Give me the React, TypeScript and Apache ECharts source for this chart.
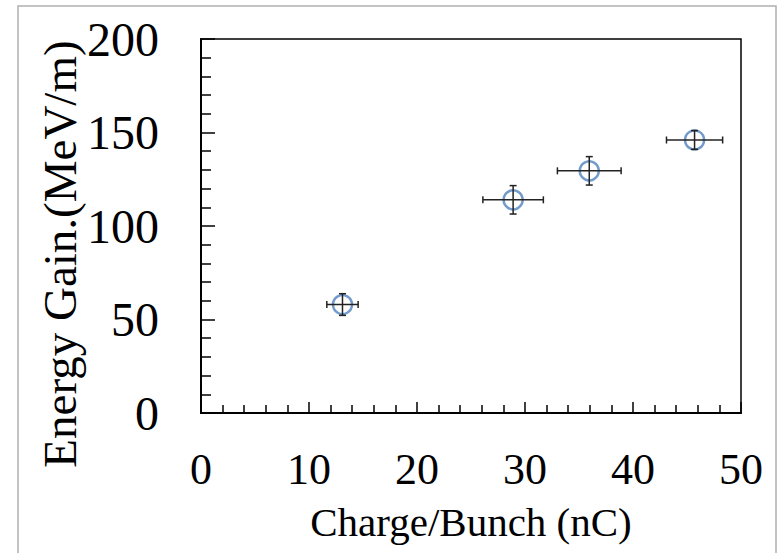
import React, { useEffect, useRef } from "react";
import * as echarts from "echarts";

const charge = [13.1, 28.9, 35.95, 45.7];
const energy = [58, 114, 129.5, 146];
const chargeErr = [1.45, 2.8, 2.95, 2.6];
const energyErr = [5.8, 7.6, 7.6, 5.0];
const xTicks = [0, 10, 20, 30, 40, 50];
const yTicks = [0, 50, 100, 150, 200];

const FONT = "'Liberation Serif', 'Times New Roman', serif";

export default function App() {
  const ref = useRef<HTMLDivElement>(null);
  useEffect(() => {
    document.body.style.margin = "0";
    const chart = echarts.init(ref.current!, null, { renderer: "svg" });
    const errData = charge.map((c, i) => [c, energy[i], chargeErr[i], energyErr[i]]);
    chart.setOption({
      animation: false,
      backgroundColor: "#fff",
      graphic: [
        {
          type: "rect",
          shape: { x: 18, y: 6, width: 758, height: 560 },
          style: { fill: "none", stroke: "#b0b0b0", lineWidth: 1.5 },
          silent: true,
        },
        {
          type: "text",
          x: 60,
          y: 254,
          rotation: Math.PI / 2,
          style: {
            text: "Energy Gain.(MeV/m)",
            fontFamily: FONT,
            fontSize: 47,
            fill: "#000",
            align: "center",
            verticalAlign: "middle",
          },
          silent: true,
        },
      ],
      grid: {
        left: 201,
        top: 39,
        width: 540,
        height: 374,
        show: true,
        borderColor: "#000",
        borderWidth: 1.5,
        backgroundColor: "transparent",
      },
      xAxis: {
        type: "value",
        min: xTicks[0],
        max: xTicks[xTicks.length - 1],
        interval: 10,
        name: "Charge/Bunch (nC)",
        nameLocation: "middle",
        nameGap: 88,
        nameTextStyle: { fontFamily: FONT, fontSize: 41, color: "#000" },
        axisLine: { show: true, lineStyle: { color: "#000", width: 2 } },
        axisTick: { show: true, inside: true, length: 11, lineStyle: { color: "#000", width: 1.5 } },
        minorTick: { show: true, splitNumber: 5, length: 8, lineStyle: { color: "#000", width: 1.5 } },
        splitLine: { show: false },
        axisLabel: { fontFamily: FONT, fontSize: 44, color: "#000", margin: 34 },
      },
      yAxis: {
        type: "value",
        min: yTicks[0],
        max: yTicks[yTicks.length - 1],
        interval: 50,
        axisLine: { show: true, lineStyle: { color: "#000", width: 2 } },
        axisTick: { show: true, inside: true, length: 14, lineStyle: { color: "#000", width: 1.5 } },
        minorTick: { show: true, splitNumber: 5, length: 10, lineStyle: { color: "#000", width: 1.5 } },
        splitLine: { show: false },
        axisLabel: { fontFamily: FONT, fontSize: 48, color: "#000", margin: 42 },
      },
      series: [
        {
          type: "scatter",
          data: charge.map((c, i) => [c, energy[i]]),
          symbol: "circle",
          symbolSize: 19,
          itemStyle: { color: "rgba(255,255,255,0)", borderColor: "#4F81BD", borderWidth: 2.5 },
          z: 2,
        },
        {
          type: "custom",
          data: errData,
          z: 3,
          renderItem: (params: any, api: any) => {
            const x = api.value(0);
            const y = api.value(1);
            const dx = api.value(2);
            const dy = api.value(3);
            const l = api.coord([x - dx, y]);
            const r = api.coord([x + dx, y]);
            const t = api.coord([x, y + dy]);
            const b = api.coord([x, y - dy]);
            const cap = 3.5;
            const style = { stroke: "#222", lineWidth: 1.5 };
            return {
              type: "group",
              children: [
                { type: "line", shape: { x1: l[0], y1: l[1], x2: r[0], y2: r[1] }, style },
                { type: "line", shape: { x1: l[0], y1: l[1] - cap, x2: l[0], y2: l[1] + cap }, style },
                { type: "line", shape: { x1: r[0], y1: r[1] - cap, x2: r[0], y2: r[1] + cap }, style },
                { type: "line", shape: { x1: t[0], y1: t[1], x2: b[0], y2: b[1] }, style },
                { type: "line", shape: { x1: t[0] - cap, y1: t[1], x2: t[0] + cap, y2: t[1] }, style },
                { type: "line", shape: { x1: b[0] - cap, y1: b[1], x2: b[0] + cap, y2: b[1] }, style },
              ],
            };
          },
        },
      ],
    });
    return () => chart.dispose();
  }, []);
  return <div ref={ref} style={{ width: 782, height: 553 }} />;
}
